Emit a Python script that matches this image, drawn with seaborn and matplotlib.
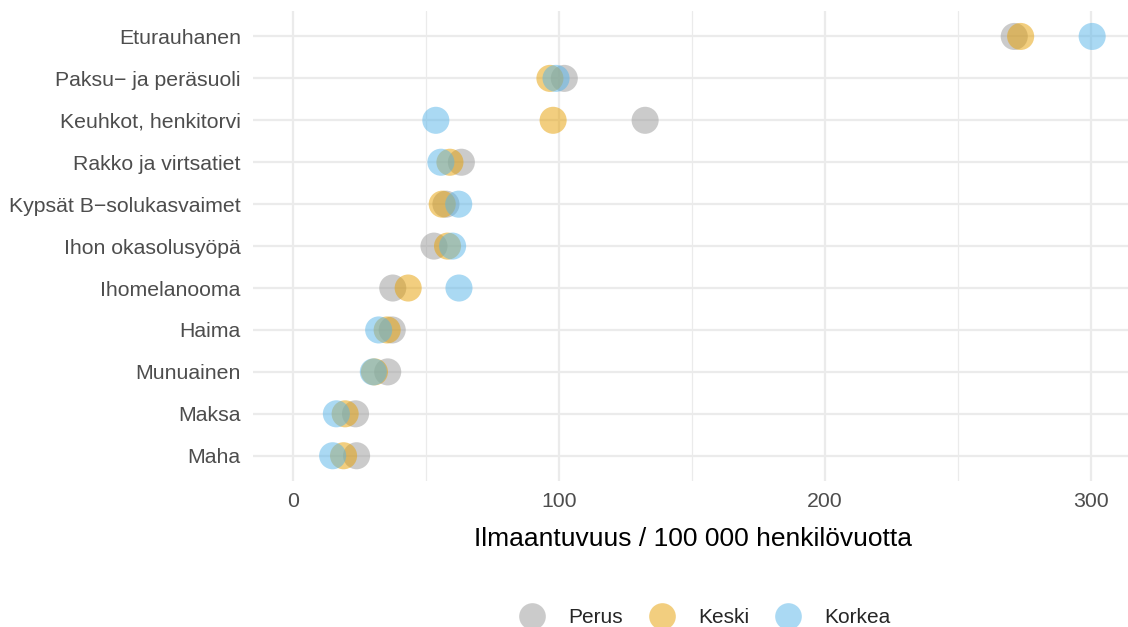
import matplotlib
matplotlib.use("Agg")
from matplotlib import pyplot as plt
import seaborn as sns
import pandas as pd

# cancer sites, top to bottom
sites = ['Eturauhanen', 'Paksu\u2212 ja peräsuoli', 'Keuhkot, henkitorvi', 'Rakko ja virtsatiet',
         'Kypsät B\u2212solukasvaimet', 'Ihon okasolusyöpä', 'Ihomelanooma', 'Haima',
         'Munuainen', 'Maksa', 'Maha']

# incidence per 100 000 person-years by education level
perus = [271.1, 101.9, 132.3, 63.2, 57.4, 52.9, 37.4, 37.2, 35.5, 23.4, 23.8]
keski = [273.5, 96.5, 97.7, 58.9, 56.0, 58.0, 43.2, 35.3, 30.5, 19.5, 18.9]
korkea = [300.4, 98.8, 53.6, 55.5, 62.2, 59.9, 62.3, 32.1, 30.1, 16.2, 14.8]

levels = ['Perus', 'Keski', 'Korkea']
colors = ['#999999', '#E69F00', '#56B4E9']


def build_frame():
    rows = []
    for level, values in zip(levels, [perus, keski, korkea]):
        for site, v in zip(sites, values):
            rows.append({'site': site, 'value': v, 'level': level})
    return pd.DataFrame(rows)


df = build_frame()

sns.set_style('white')
plt.rcParams['font.family'] = ['Liberation Sans', 'DejaVu Sans']

fig = plt.figure(figsize=(11.28, 6.27), dpi=100)
# panel runs slightly past the right edge, like the original
ax = fig.add_axes([0.2246, 0.233, 0.779, 0.749])

sns.scatterplot(data=df, x='value', y='site', hue='level', hue_order=levels,
                palette=colors, alpha=0.5, s=380, edgecolor='none', linewidth=0,
                ax=ax, zorder=3, legend=False)

ax.set_xlim(-15.02, 315.4)
ax.set_ylim(len(sites) - 0.4, -0.6)
ax.set_xticks([0, 100, 200, 300])
ax.set_xticks([50, 150, 250], minor=True)
ax.grid(True, which='major', color='#EBEBEB', linewidth=1.6, zorder=0)
ax.grid(True, which='minor', axis='x', color='#EBEBEB', linewidth=0.9, zorder=0)
for s in ax.spines.values():
    s.set_visible(False)
ax.tick_params(axis='both', which='both', length=0, labelsize=15.3, labelcolor='#4D4D4D')
ax.tick_params(axis='y', pad=9)
ax.tick_params(axis='x', pad=8)
ax.set_ylabel('')
ax.set_xlabel('Ilmaantuvuus / 100 000 henkilövuotta', fontsize=19, color='black', labelpad=11.5)

handles = [plt.Line2D([], [], marker='o', linestyle='', markersize=19.2,
                      markerfacecolor=c, markeredgecolor='none', alpha=0.5) for c in colors]
fig.legend(handles, levels, loc='lower center', bbox_to_anchor=(0.6215, -0.03), ncol=3,
           frameon=False, fontsize=15, handletextpad=0.75, columnspacing=0.85)

fig.savefig('out.png', dpi=100)
